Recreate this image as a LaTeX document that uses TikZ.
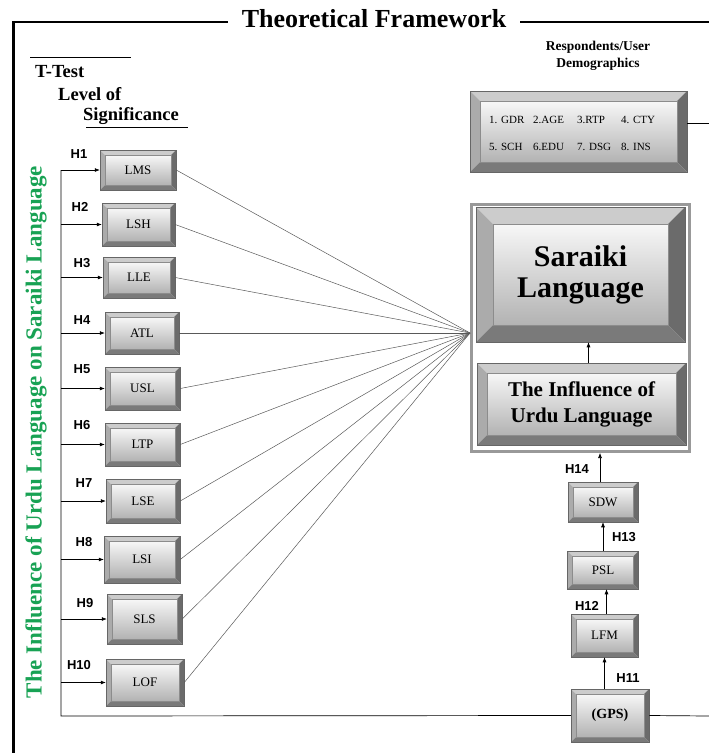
\documentclass[tikz,border=0pt]{standalone}
\usepackage{fontspec}
\setmainfont{Liberation Serif}
\newfontfamily\hsans{Liberation Sans}
\usetikzlibrary{arrows.meta,calc}
\definecolor{ugreen}{RGB}{24,162,84}
\tikzset{
  bev/.style={draw=black!60, line width=0.5pt, inner sep=0pt, align=center,
    path picture={
      \path (path picture bounding box.north west) coordinate (pnw)
            (path picture bounding box.south east) coordinate (pse)
            (path picture bounding box.north east) coordinate (pne)
            (path picture bounding box.south west) coordinate (psw);
      \fill[black!20] (pnw) -- (pne) -- ([shift={(-#1pt,-#1pt)}]pne) -- ([shift={(#1pt,-#1pt)}]pnw) -- cycle;
      \fill[black!33] (pnw) -- (psw) -- ([shift={(#1pt,#1pt)}]psw) -- ([shift={(#1pt,-#1pt)}]pnw) -- cycle;
      \fill[black!58] (pne) -- (pse) -- ([shift={(-#1pt,#1pt)}]pse) -- ([shift={(-#1pt,-#1pt)}]pne) -- cycle;
      \fill[black!52] (psw) -- (pse) -- ([shift={(-#1pt,#1pt)}]pse) -- ([shift={(#1pt,#1pt)}]psw) -- cycle;
      \shade[top color=black!3, bottom color=black!30] ([shift={(#1pt,-#1pt)}]pnw) rectangle ([shift={(-#1pt,#1pt)}]pse);
      \draw[black!45, line width=0.4pt] ([shift={(#1pt,-#1pt)}]pnw) rectangle ([shift={(-#1pt,#1pt)}]pse);
    }},
  sbox/.style={bev=5, font=\rmfamily\fontsize{13}{13}\selectfont},
  hlab/.style={font=\hsans\bfseries\fontsize{13}{13}\selectfont, inner sep=0pt},
  arr/.style={line width=0.6pt, -{Latex[length=5pt,width=4pt]}},
  fan/.style={line width=0.5pt, black!65},
  frame/.style={line width=2.5pt},
}
\begin{document}
\begin{tikzpicture}[x=1pt,y=-1pt]
\useasboundingbox (0,0) rectangle (709,753);
% frame and title
\node[font=\bfseries\fontsize{26}{28}\selectfont, inner sep=0pt] (title) at (374,19) {Theoretical Framework};
\draw[frame] (13.5,753) -- (13.5,22) -- (228,22);
\draw[frame] (520,22) -- (709,22);
% T-test heading
\draw[line width=0.8pt] (30,57) -- (131,57);
\node[font=\bfseries\fontsize{18.5}{20}\selectfont, anchor=west, inner sep=0pt] (tt) at (35,72) {T-Test};
\node[font=\bfseries\fontsize{18.5}{20}\selectfont, anchor=west, inner sep=0pt] (lv) at (58,94) {Level of};
\node[font=\bfseries\fontsize{18.5}{20}\selectfont, anchor=west, inner sep=0pt] (sg) at (83,116) {Significance};
\draw[line width=0.8pt] (86,127) -- (188,127);
% demographics
\node[font=\bfseries\fontsize{13.5}{17}\selectfont, align=center] (demt) at (598,56) {Respondents/User\\Demographics};
\node[bev=10, minimum width=217pt, minimum height=81pt] (demo) at (578.5,131.5) {};
\foreach \t/\x/\y in {1. GDR/489/120, 2.AGE/533/120, 3.RTP/577/120, 4. CTY/621/120,
                      5. SCH/489/147, 6.EDU/533/147, 7. DSG/577/147, 8. INS/621/147}
  \node[font=\fontsize{11}{11}\selectfont, anchor=west, inner sep=0pt] at (\x,\y) {\t};
\coordinate (demr) at (709,123);
\draw[line width=0.7pt] ([yshift=8.5pt]demo.east) -- (demr);
% Saraiki outer frame
\node[draw=black!40, line width=3pt, minimum width=217.5pt, minimum height=247pt, inner sep=0pt] (outer) at (580.25,328) {};
\node[bev=17, minimum width=209pt, minimum height=135pt, font=\bfseries\fontsize{30}{31}\selectfont] (sar) at (580.5,274.5) {Saraiki\\Language};
\node[bev=10, minimum width=209pt, minimum height=82pt, font=\bfseries\fontsize{21}{26}\selectfont] (infl) at (581.5,404) {The Influence of\\Urdu Language};
\draw[arr] ([xshift=7pt]infl.north) -- ([xshift=7pt]infl.north |- sar.south);
% right chain
\node[sbox, minimum width=70pt, minimum height=40pt] (sdw) at (603,502) {SDW};
\node[sbox, minimum width=71pt, minimum height=38pt] (psl) at (603,570) {PSL};
\node[sbox, minimum width=67pt, minimum height=43pt] (lfm) at (604.5,635.5) {LFM};
\node[sbox, minimum width=78pt, minimum height=53pt, font=\rmfamily\bfseries\fontsize{14}{14}\selectfont] (gps) at (610,715.5) {(GPS)};
\draw[arr] ([xshift=-3pt]sdw.north) -- ([xshift=-3pt]sdw.north |- outer.south);
\draw[arr] (psl.north) -- (psl.north |- sdw.south);
\draw[arr] ([xshift=2pt]lfm.north) -- ([xshift=2pt]lfm.north |- psl.south);
\draw[arr] (lfm.south |- gps.north) -- (lfm.south);
\node[hlab] (h14) at (577,469) {H14};
\node[hlab] (h13) at (624,537) {H13};
\node[hlab] (h12) at (587,606) {H12};
\node[hlab] (h11) at (628,678) {H11};
\coordinate (gpsr) at (709,716);
\draw[line width=0.7pt] (gps.east) -- (gpsr);
% left boxes
\node[sbox, minimum width=76pt, minimum height=40pt] (lms) at (138,170) {LMS};
\node[sbox, minimum width=73pt, minimum height=43pt] (lsh) at (138.5,224.5) {LSH};
\node[sbox, minimum width=72pt, minimum height=41pt] (lle) at (139,277.5) {LLE};
\node[sbox, minimum width=74pt, minimum height=42pt] (atl) at (142,333) {ATL};
\node[sbox, minimum width=75pt, minimum height=43pt] (usl) at (142.5,388.5) {USL};
\node[sbox, minimum width=75pt, minimum height=43pt] (ltp) at (142.5,444.5) {LTP};
\node[sbox, minimum width=74pt, minimum height=44pt] (lse) at (143,501) {LSE};
\node[sbox, minimum width=76pt, minimum height=47pt] (lsi) at (142,559.5) {LSI};
\node[sbox, minimum width=75pt, minimum height=50pt] (sls) at (144.5,619) {SLS};
\node[sbox, minimum width=78pt, minimum height=47pt] (lof) at (145,682.5) {LOF};
\foreach \h/\x/\y in {H1/79/154, H2/80/207, H3/82/263, H4/82/320, H5/82/369,
                      H6/82/425, H7/84/483, H8/84/542, H9/85/603, H10/79/665}
  \node[hlab] at (\x,\y) {\h};
% bus
\coordinate (bt) at (61,170);
\coordinate (bb) at (61,716);
\draw[line width=0.7pt] (gps.west) -- (bb) -- (bt);
\foreach \n in {lms,lsh,lle,atl,usl,ltp,lse,lsi,sls,lof}
  \draw[arr] (bt |- \n.west) -- (\n.west);
% fan
\coordinate (conv) at (470,333);
\foreach \n in {lms,lsh,lle,atl,usl,ltp,lse,lsi,sls,lof}
  \draw[fan] (\n.east) -- (conv);
% side title
\node[rotate=90, text=ugreen, font=\bfseries\fontsize{23}{25}\selectfont, inner sep=0pt] (side) at (36,432) {The Influence of Urdu Language on Saraiki Language};
\end{tikzpicture}
\end{document}
